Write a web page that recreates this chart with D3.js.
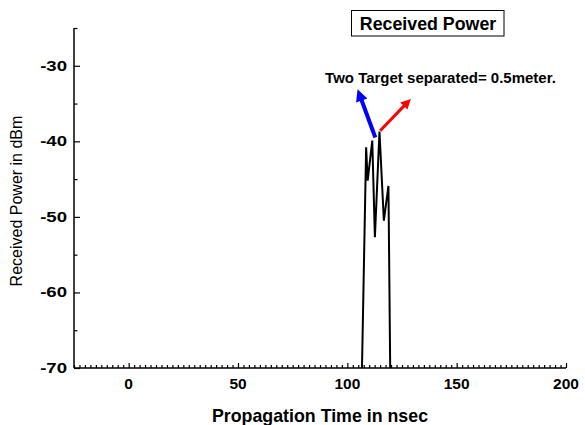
<!DOCTYPE html>
<html>
<head>
<meta charset="utf-8">
<script src="https://cdnjs.cloudflare.com/ajax/libs/d3/7.8.5/d3.min.js"></script>
<style>
  body { margin: 0; background: #fff; overflow: hidden; }
  text { font-family: "Liberation Sans", "DejaVu Sans", sans-serif; }
</style>
</head>
<body>
<div id="chart"></div>
<script>
// data
var timeNs = [106.7, 108.6, 109.3, 111.4, 112.6, 114.7, 116.7, 118.8, 119.6];
var powerDbm = [-70, -40.8, -45.2, -39.9, -52.7, -38.7, -50.5, -45.9, -70];

var xTicks = [0, 50, 100, 150, 200];
var yTicks = [-30, -40, -50, -60, -70];

// annotation arrows [from, to] in data units
var arrowBlue = [[112.8, -39.5], [104.3, -32.8]];
var arrowRed = [[115.0, -38.6], [130.3, -34.0]];

var W = 585, H = 425;
var margin = {top: 28, right: 19, bottom: 57, left: 74},
    width = W - margin.left - margin.right,
    height = H - margin.top - margin.bottom;

var svg = d3.select("#chart").append("svg")
    .attr("width", W)
    .attr("height", H);

var defs = svg.append("defs");
function marker(id, col, w, l) {
    defs.append("marker")
        .attr("id", id)
        .attr("viewBox", "0 0 10 10")
        .attr("refX", 2)
        .attr("refY", 5)
        .attr("markerUnits", "userSpaceOnUse")
        .attr("markerWidth", l)
        .attr("markerHeight", w)
        .attr("orient", "auto")
        .append("path")
        .attr("d", "M0,0L10,5L0,10Z")
        .attr("fill", col);
}
marker("headBlue", "#0000ff", 12, 15);
marker("headRed", "#ff0000", 10, 12);

var g = svg.append("g")
    .attr("transform", "translate(" + margin.left + "," + margin.top + ")");

var x = d3.scaleLinear().domain([-25, 200]).range([0, width]);
var y = d3.scaleLinear().domain([-70, -25]).range([height, 0]);

// minor ticks
var xMinor = d3.range(-25, 200.1, 2.5).filter(function(d) { return d % 50 !== 0; });
var yMinor = [-25, -35, -45, -55, -65];

var xAxis = d3.axisTop(x).tickValues(xTicks).tickSize(5).tickFormat("");
var xAxisMinor = d3.axisTop(x).tickValues(xMinor).tickSize(3).tickFormat("");
var yAxis = d3.axisRight(y).tickValues(yTicks).tickSize(6).tickFormat("");
var yAxisMinor = d3.axisRight(y).tickValues(yMinor).tickSize(3.5).tickFormat("");

g.append("g").attr("class", "x axis")
    .attr("transform", "translate(0," + height + ")")
    .call(xAxis);
g.append("g").attr("class", "x axis minor")
    .attr("transform", "translate(0," + height + ")")
    .call(xAxisMinor);
g.append("g").attr("class", "y axis").call(yAxis);
g.append("g").attr("class", "y axis minor").call(yAxisMinor);

g.selectAll(".axis path").remove();
g.selectAll(".axis line").attr("stroke", "#000").attr("stroke-width", 1.2);

g.append("line")
    .attr("x1", 0).attr("x2", width)
    .attr("y1", height).attr("y2", height)
    .attr("stroke", "#000").attr("stroke-width", 1.5);
g.append("line")
    .attr("x1", 0).attr("x2", 0)
    .attr("y1", 0).attr("y2", height)
    .attr("stroke", "#000").attr("stroke-width", 1.5);

// tick labels
g.selectAll(".xlab")
    .data(xTicks)
    .enter().append("text")
    .attr("x", function(d) { return x(d); })
    .attr("y", height + 21)
    .attr("text-anchor", "middle")
    .style("font-size", "15.5px")
    .style("font-weight", "bold")
    .text(function(d) { return d; });

// y labels look stretched sideways in the original
g.selectAll(".ylab")
    .data(yTicks)
    .enter().append("text")
    .attr("transform", function(d) { return "translate(-7," + (y(d) + 5) + ") scale(1.2,1)"; })
    .attr("text-anchor", "end")
    .style("font-size", "15.5px")
    .style("font-weight", "bold")
    .text(function(d) { return d; });

// data line
var line = d3.line()
    .x(function(d, i) { return x(timeNs[i]); })
    .y(function(d) { return y(d); });

g.append("path")
    .datum(powerDbm)
    .attr("d", line)
    .attr("fill", "none")
    .attr("stroke", "#000")
    .attr("stroke-width", 2)
    .attr("stroke-linejoin", "miter");

// arrows
function arrow(a, col, sw, head) {
    var p0 = [x(a[0][0]), y(a[0][1])], p1 = [x(a[1][0]), y(a[1][1])];
    var dx = p1[0] - p0[0], dy = p1[1] - p0[1], len = Math.sqrt(dx * dx + dy * dy);
    var back = 12;
    g.append("line")
        .attr("x1", p0[0]).attr("y1", p0[1])
        .attr("x2", p1[0] - dx / len * back).attr("y2", p1[1] - dy / len * back)
        .attr("stroke", col)
        .attr("stroke-width", sw)
        .attr("marker-end", "url(#" + head + ")");
}
arrow(arrowBlue, "#0000ff", 4, "headBlue");
arrow(arrowRed, "#ff0000", 3, "headRed");

g.append("text")
    .attr("x", 440.5 - margin.left)
    .attr("y", 54.7)
    .attr("text-anchor", "middle")
    .style("font-size", "15px")
    .style("font-weight", "bold")
    .text("Two Target separated= 0.5meter.");

// title box
svg.append("rect")
    .attr("x", 351.5).attr("y", 10.5)
    .attr("width", 152.5).attr("height", 25.5)
    .attr("fill", "#fff")
    .attr("stroke", "#000")
    .attr("stroke-width", 1);
svg.append("text")
    .attr("x", 428)
    .attr("y", 29.5)
    .attr("text-anchor", "middle")
    .style("font-size", "17.8px")
    .style("font-weight", "bold")
    .text("Received Power");

// axis titles
svg.append("text")
    .attr("x", 320)
    .attr("y", 421.5)
    .attr("text-anchor", "middle")
    .style("font-size", "17.8px")
    .style("font-weight", "bold")
    .text("Propagation Time in nsec");

svg.append("text")
    .attr("transform", "translate(22," + (margin.top + y(-47.5) + 3) + ") rotate(-90)")
    .attr("text-anchor", "middle")
    .style("font-size", "16px")
    .text("Received Power in dBm");
</script>
</body>
</html>
